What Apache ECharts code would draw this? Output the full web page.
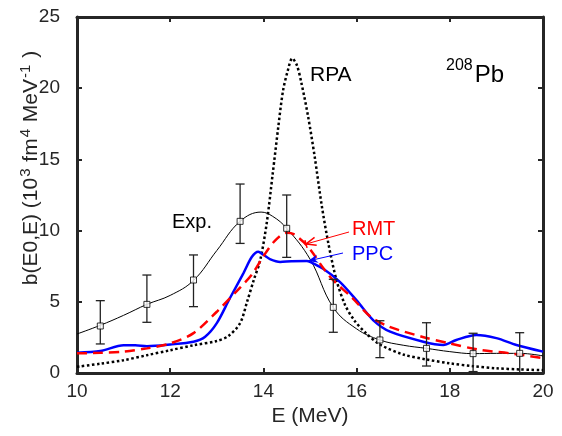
<!DOCTYPE html>
<html><head><meta charset="utf-8">
<script src="https://cdn.jsdelivr.net/npm/echarts@6/dist/echarts.min.js"></script>
<style>html,body{margin:0;padding:0;background:#fff}#c{width:562px;height:436px}</style>
</head><body><div id="c"></div>
<script>
// Experimental points
const expE = [10.5, 11.5, 12.5, 13.5, 14.5, 15.5, 16.5, 17.5, 18.5, 19.5];
const expVal = [3.3, 4.82, 6.53, 10.65, 10.16, 4.61, 2.32, 1.73, 1.36, 1.38];
const expLow = [2.04, 3.56, 4.66, 9.1, 8.12, 2.86, 1.08, 0.49, 0.1, 0.0];
const expHigh = [5.08, 6.88, 8.29, 13.27, 12.5, 6.58, 3.67, 3.53, 2.79, 2.83];
// Exp. fit curve
const fitE = [10, 10.5, 11, 11.5, 12, 12.5, 13, 13.5, 13.95, 14.2, 14.5, 15, 15.5, 16, 16.5, 17, 17.5, 18, 18.5, 19, 19.5, 20];
const fitV = [2.74, 3.35, 4.05, 4.82, 5.45, 6.5, 8.6, 10.65, 11.3, 11.0, 10.16, 8.0, 4.6, 3.1, 2.32, 1.95, 1.73, 1.5, 1.36, 1.38, 1.38, 1.2];
// RPA
const rpaE = [10, 10.5, 11, 11.5, 12, 12.5, 13, 13.25, 13.5, 13.65, 13.8, 13.93, 14.07, 14.2, 14.32, 14.42, 14.52, 14.62, 14.72, 14.82, 14.96, 15.1, 15.25, 15.4, 15.57, 15.75, 15.95, 16.2, 16.5, 17, 17.5, 18, 18.5, 19, 19.5, 20];
const rpaV = [0.44, 0.65, 0.9, 1.25, 1.6, 1.95, 2.25, 2.6, 3.5, 5.0, 6.6, 7.9, 10.5, 14.0, 17.3, 19.8, 21.2, 22.1, 21.6, 20.3, 18.0, 15.2, 11.8, 9.0, 6.5, 4.8, 3.7, 2.8, 2.0, 1.3, 0.95, 0.68, 0.48, 0.33, 0.25, 0.2];
// RMT
const rmtE = [10, 10.5, 11, 11.5, 12, 12.5, 13, 13.5, 13.75, 14, 14.25, 14.5, 14.65, 14.95, 15.3, 15.5, 15.9, 16.3, 16.7, 17.4, 18, 18.6, 19.3, 20];
const rmtV = [1.38, 1.42, 1.5, 1.73, 2.08, 2.8, 4.3, 6.0, 6.9, 8.2, 9.3, 9.85, 9.75, 8.9, 7.3, 6.5, 5.3, 3.95, 3.25, 2.55, 2.08, 1.65, 1.38, 1.05];
// PPC
const ppcE = [10, 10.5, 11, 11.25, 11.5, 12, 12.5, 12.75, 13, 13.28, 13.57, 13.75, 13.89, 14.0, 14.14, 14.36, 14.6, 14.93, 15.0, 15.29, 15.64, 16.0, 16.36, 16.72, 17.43, 17.86, 18.14, 18.57, 19.0, 19.43, 20];
const ppcV = [1.43, 1.54, 1.95, 1.95, 1.88, 2.0, 2.2, 2.55, 3.5, 5.25, 7.0, 8.15, 8.52, 8.3, 8.0, 7.8, 7.85, 7.86, 7.8, 7.3, 6.4, 5.1, 3.7, 2.9, 2.2, 1.97, 2.32, 2.67, 2.45, 1.97, 1.5];
const xTicks = [10, 12, 14, 16, 18, 20];
const yTicks = [0, 5, 10, 15, 20, 25];

const zip = (a, b) => a.map((v, i) => [v, b[i]]);
const FONT = 'Liberation Sans, Arial, sans-serif';
const AX = '#262626';
const chart = echarts.init(document.getElementById('c'), null, {renderer: 'canvas'});

const axBase = {
  type: 'value',
  axisLine: {show: true, onZero: false, lineStyle: {color: AX, width: 3}},
  axisTick: {show: true, inside: true, length: 5, lineStyle: {color: AX, width: 2}},
  splitLine: {show: false}
};

const option = {
  animation: false,
  grid: {left: 77, right: 19, top: 17, bottom: 63, containLabel: false},
  xAxis: [
    Object.assign({}, axBase, {min: xTicks[0], max: xTicks[xTicks.length - 1], interval: 2, position: 'bottom',
      name: 'E (MeV)', nameLocation: 'middle', nameGap: 33,
      nameTextStyle: {fontFamily: FONT, fontSize: 21, color: AX},
      axisLabel: {fontFamily: FONT, fontSize: 19, color: AX, margin: 9}}),
    Object.assign({}, axBase, {min: xTicks[0], max: xTicks[xTicks.length - 1], interval: 2, position: 'top',
      axisLabel: {show: false}})
  ],
  yAxis: [
    Object.assign({}, axBase, {min: yTicks[0], max: yTicks[yTicks.length - 1], interval: 5, position: 'left',
      axisLabel: {fontFamily: FONT, fontSize: 19, color: AX, margin: 17}}),
    Object.assign({}, axBase, {min: yTicks[0], max: yTicks[yTicks.length - 1], interval: 5, position: 'right',
      axisLabel: {show: false}})
  ],
  series: [
    {type: 'line', name: 'RPA', data: zip(rpaE, rpaV), smooth: 0.3, symbol: 'none',
      lineStyle: {color: '#000', width: 2.5, type: [2.5, 2.5]}, z: 3},
    {type: 'line', name: 'Exp fit', data: zip(fitE, fitV), smooth: 0.4, symbol: 'none',
      lineStyle: {color: '#000', width: 1}, z: 2},
    {type: 'line', name: 'PPC', data: zip(ppcE, ppcV), smooth: 0.3, symbol: 'none',
      lineStyle: {color: '#0000ff', width: 2.5}, z: 4},
    {type: 'line', name: 'RMT', data: zip(rmtE, rmtV), smooth: 0.3, symbol: 'none',
      lineStyle: {color: '#ff0000', width: 2.5, type: [10, 6]}, z: 5},
    {type: 'custom', name: 'errors', z: 6,
      data: expE.map((e, i) => [e, expLow[i], expHigh[i]]),
      renderItem: function (params, api) {
        const lo = api.coord([api.value(0), api.value(1)]);
        const hi = api.coord([api.value(0), api.value(2)]);
        const hw = 4.5;
        const st = {stroke: '#222', lineWidth: 1.3};
        return {type: 'group', children: [
          {type: 'line', shape: {x1: lo[0], y1: lo[1], x2: hi[0], y2: hi[1]}, style: st},
          {type: 'line', shape: {x1: lo[0] - hw, y1: lo[1], x2: lo[0] + hw, y2: lo[1]}, style: st},
          {type: 'line', shape: {x1: hi[0] - hw, y1: hi[1], x2: hi[0] + hw, y2: hi[1]}, style: st}
        ]};
      }},
    {type: 'scatter', name: 'Exp.', data: zip(expE, expVal), symbol: 'rect', symbolSize: 6,
      itemStyle: {color: '#fff', borderColor: '#000', borderWidth: 1}, z: 7}
  ]
};
chart.setOption(option);

function arrow(x1, y1, x2, y2, color, filled, bar) {
  const dx = x2 - x1, dy = y2 - y1, L = Math.hypot(dx, dy);
  const ux = dx / L, uy = dy / L, px = -uy, py = ux;
  const hl = 10, hw = 4;
  const b1 = [x2 - ux * hl + px * hw, y2 - uy * hl + py * hw];
  const b2 = [x2 - ux * hl - px * hw, y2 - uy * hl - py * hw];
  const els = [{type: 'line', shape: {x1: x1, y1: y1, x2: x2, y2: y2}, style: {stroke: color, lineWidth: 1}, z: 20}];
  if (filled) {
    els.push({type: 'polygon', shape: {points: [[x2, y2], b1, [x2 - ux * 7, y2 - uy * 7], b2]}, style: {fill: color}, z: 20});
  } else {
    els.push({type: 'polyline', shape: {points: [b1, [x2, y2], b2]}, style: {stroke: color, lineWidth: 1.5, fill: null}, z: 20});
  }
  if (bar) {
    els.push({type: 'line', shape: {x1: x2 + px * 4, y1: y2 + py * 4, x2: x2 - px * 4, y2: y2 - py * 4}, style: {stroke: color, lineWidth: 1.5}, z: 20});
  }
  return els;
}

const nStyle = {fontSize: 21, fontFamily: FONT, fill: AX, verticalAlign: 'bottom', padding: [3, 0, 0, 0]};
const sStyle = {fontSize: 15, fontFamily: FONT, fill: AX, verticalAlign: 'top', padding: [0, 1, 0, 1]};
const g = [];
g.push({type: 'text', left: 310, top: 65, style: {text: 'RPA', font: '21px ' + FONT, fill: '#000'}, z: 20});
g.push({type: 'text', left: 446, top: 58, style: {text: '{s|208}{b|Pb}', rich: {
  s: {fontSize: 16, fontFamily: FONT, verticalAlign: 'top', fill: '#000', padding: [0, 2, 0, 0]},
  b: {fontSize: 24, fontFamily: FONT, fill: '#000', verticalAlign: 'bottom', padding: [5, 0, 0, 0]}}}, z: 20});
g.push({type: 'text', left: 172, top: 212, style: {text: 'Exp.', font: '20px ' + FONT, fill: '#000'}, z: 20});
g.push({type: 'text', left: 352, top: 219, style: {text: 'RMT', font: '20px ' + FONT, fill: '#ff0000'}, z: 20});
g.push({type: 'text', left: 352, top: 244, style: {text: 'PPC', font: '20px ' + FONT, fill: '#0000ff'}, z: 20});
arrow(349, 232, 306, 244, '#ff0000', false, true).forEach(e => g.push(e));
arrow(343, 253, 308, 261, '#0000ff', true, false).forEach(e => g.push(e));
// y-axis title (rotated, with superscripts)
g.push({type: 'text', x: 30, y: 168, rotation: Math.PI / 2,
  style: {text: '{n|b(E0,E) (10}{s|3}{n| fm}{s|4}{n| MeV}{s|-1}{n| )}', align: 'center', verticalAlign: 'middle',
    rich: {n: nStyle, s: sStyle}}, z: 20});
chart.setOption({graphic: g});
</script></body></html>
